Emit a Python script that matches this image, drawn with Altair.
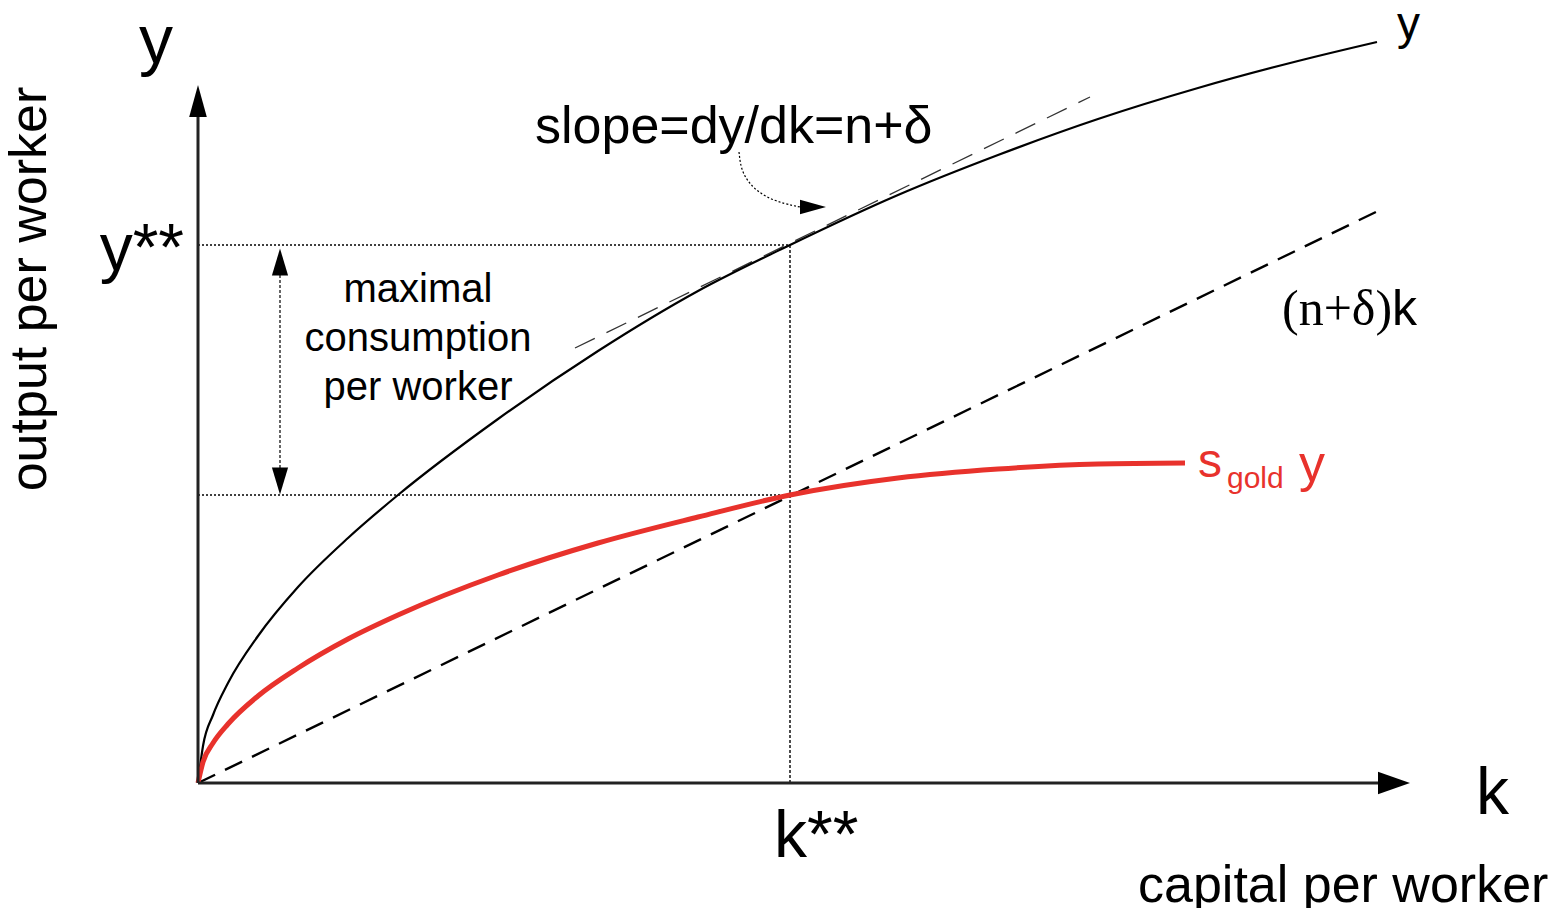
import altair as alt
import pandas as pd

# ---- data (k = capital per worker, y = output per worker) ----
k_prod = [0, 0.05, 0.15, 0.3, 0.6, 1.0, 1.5, 2.0, 3.0, 4.0, 5.0, 5.92, 7.0, 8.0, 9.0, 10.0, 11.0, 11.79]
y_prod = [0, 0.37, 0.68, 1.00, 1.47, 1.96, 2.45, 2.88, 3.64, 4.32, 4.92, 5.38, 5.88, 6.28, 6.64, 6.95, 7.22, 7.41]

k_sav = [0, 0.05, 0.15, 0.3, 0.6, 1.0, 1.5, 2.0, 3.0, 4.0, 5.0, 5.92, 7.0, 8.0, 9.0, 9.87]
y_sav = [0, 0.21, 0.40, 0.59, 0.87, 1.15, 1.44, 1.68, 2.08, 2.40, 2.66, 2.88, 3.05, 3.14, 3.19, 3.20]

k_dep = [0, 11.82]          # (n+delta)k line end points
y_dep = [0, 5.73]

k_tan = [3.77, 8.92]        # tangent at k**
y_tan = [4.35, 6.86]

k_star = 5.92
y_star = 5.38
c_star = 2.88               # s_gold * y at k**

# ---- layout constants ----
SANS = "Liberation Sans"
SERIF = "Liberation Serif"
RED = "#e8322c"
xs = alt.Scale(domain=[-1.90, 13.54], nice=False, zero=False)
ys = alt.Scale(domain=[-1.25, 7.75], nice=False, zero=False)


def enc(ch):
    return ch.encode(x=alt.X("k:Q", scale=xs, axis=None),
                     y=alt.Y("y:Q", scale=ys, axis=None))


def line(ks, yv, **kw):
    df = pd.DataFrame({"k": ks, "y": yv, "o": range(len(ks))})
    return alt.Chart(df).mark_line(**kw).encode(
        x=alt.X("k:Q", scale=xs, axis=None),
        y=alt.Y("y:Q", scale=ys, axis=None),
        order="o:Q")


def rule(k1, y1, k2, y2, **kw):
    df = pd.DataFrame({"k": [k1], "y": [y1], "k2": [k2], "y2": [y2]})
    return alt.Chart(df).mark_rule(**kw).encode(
        x=alt.X("k:Q", scale=xs, axis=None), y=alt.Y("y:Q", scale=ys, axis=None),
        x2="k2:Q", y2="y2:Q")


def head(k, y, shape, size):
    df = pd.DataFrame({"k": [k], "y": [y]})
    return enc(alt.Chart(df).mark_point(shape=shape, size=size, filled=True,
                                        color="black", opacity=1, strokeWidth=0))


def label(text, k, y, size, font=SANS, align="left", color="black", angle=0):
    df = pd.DataFrame({"k": [k], "y": [y], "t": [text]})
    kw = dict(font=font, fontSize=size, align=align, baseline="alphabetic", color=color)
    if angle:
        kw["angle"] = angle
    return enc(alt.Chart(df).mark_text(**kw)).encode(text="t:N")


layers = [
    # guide lines
    rule(0, y_star, k_star, y_star, color="black", strokeWidth=1.4, strokeDash=[2, 2]),
    rule(0, c_star, k_star, c_star, color="black", strokeWidth=1.4, strokeDash=[2, 2]),
    rule(k_star, 0, k_star, y_star, color="black", strokeWidth=1.4, strokeDash=[3, 2]),
    # double arrow
    rule(0.82, 5.08, 0.82, 3.15, color="black", strokeWidth=1.2, strokeDash=[3, 2]),
    head(0.82, 5.21, "M0,-1L0.6,1L-0.6,1Z", 729),
    head(0.82, 3.02, "M0,1L0.6,-1L-0.6,-1Z", 729),
    # (n+delta)k
    line(k_dep, y_dep, color="black", strokeWidth=2.4, strokeDash=[19, 11]),
    # tangent
    line(k_tan, y_tan, color="#333333", strokeWidth=1.3, strokeDash=[22, 13]),
    # curves
    line(k_prod, y_prod, color="black", strokeWidth=2.2, interpolate="monotone"),
    line(k_sav, y_sav, color=RED, strokeWidth=5, interpolate="monotone"),
    # curved dotted pointer
    line([5.41, 5.43, 5.52, 5.67, 5.87, 6.02], [6.31, 6.13, 5.98, 5.86, 5.79, 5.76],
         color="black", strokeWidth=1.2, strokeDash=[2, 2], interpolate="basis"),
    head(6.15, 5.76, "M1,0L-1,-0.55L-1,0.55Z", 676),
    # axes
    rule(0, 0, 0, 6.70, color="#222222", strokeWidth=3),
    rule(0, 0, 11.80, 0, color="#222222", strokeWidth=3),
    head(0, 6.82, "M0,-1L0.55,1L-0.55,1Z", 1024),
    head(11.96, 0, "M1,0L-1,-0.7L-1,0.7Z", 1024),
    # labels
    label("y", -0.42, 7.20, 68, align="center"),
    label("y**", -0.14, 5.13, 66, align="right"),
    label("k**", 5.76, -0.74, 66),
    label("k", 12.78, -0.31, 66),
    label("y", 11.99, 7.44, 46),
    label("slope=dy/dk=n+δ", 3.37, 6.40, 52),
    label("maximal", 2.20, 4.81, 40, align="center"),
    label("consumption", 2.20, 4.32, 40, align="center"),
    label("per worker", 2.20, 3.83, 40, align="center"),
    label("(n+δ)", 10.84, 4.58, 50, font=SERIF),
    label("k", 11.94, 4.58, 50),
    label("s", 10.00, 3.06, 48, color=RED),
    label("gold", 10.29, 2.95, 30, color=RED),
    label("y", 11.01, 3.02, 52, color=RED),
    label("output per worker", -1.52, 4.94, 52, align="center", angle=270),
    label("capital per worker", 9.40, -1.19, 52),
]

chart = alt.layer(*layers).properties(
    width=1544, height=900, padding=0,
    autosize=alt.AutoSizeParams(type="none"),
).configure_view(stroke=None)

chart.save("out.html", embed_options={"renderer": "svg", "actions": False})
